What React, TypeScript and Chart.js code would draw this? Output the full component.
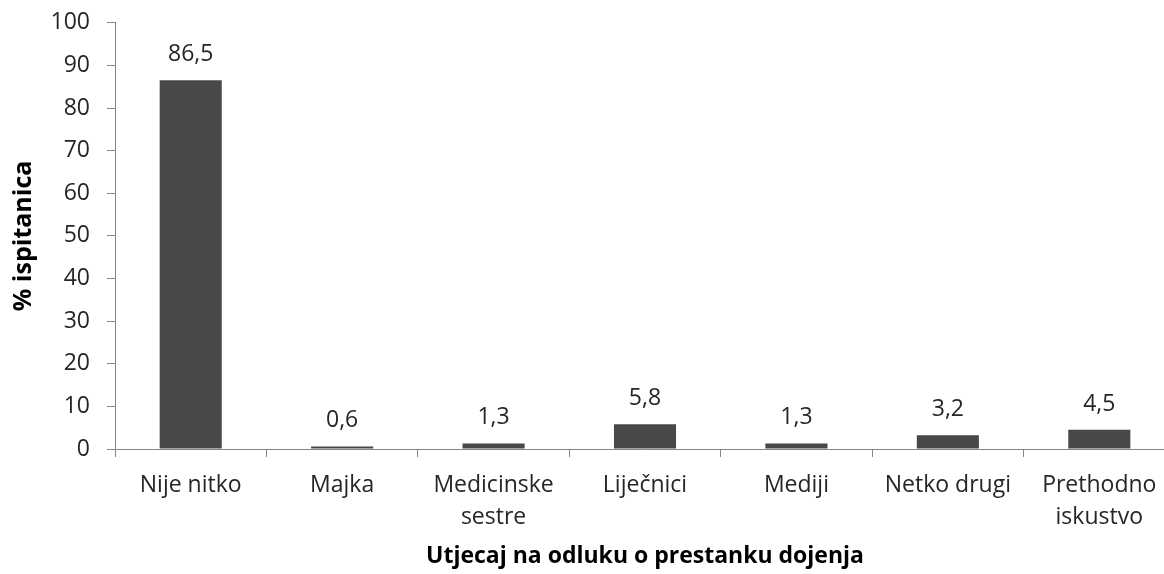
import React, { useEffect, useRef } from "react";
import { Chart, registerables } from "chart.js";

Chart.register(...registerables);

const categories: (string | string[])[] = [
  "Nije nitko",
  "Majka",
  ["Medicinske", "sestre"],
  "Liječnici",
  "Mediji",
  "Netko drugi",
  ["Prethodno", "iskustvo"],
];
const values: number[] = [86.5, 0.6, 1.3, 5.8, 1.3, 3.2, 4.5];
const valueLabels: string[] = ["86,5", "0,6", "1,3", "5,8", "1,3", "3,2", "4,5"];
const yTitle = "% ispitanica";
const xTitle = "Utjecaj na odluku o prestanku dojenja";

const FONT = "'Open Sans', 'Noto Sans', sans-serif";
const TEXT = "#262626";
const AXIS = "#868686";

const labelPlugin = {
  id: "valueLabels",
  afterDatasetsDraw(chart: any) {
    const ctx = chart.ctx;
    const meta = chart.getDatasetMeta(0);
    ctx.save();
    ctx.font = `23px ${FONT}`;
    ctx.fillStyle = TEXT;
    ctx.textAlign = "center";
    ctx.textBaseline = "alphabetic";
    meta.data.forEach((bar: any, i: number) => {
      ctx.fillText(valueLabels[i], bar.x, bar.y - 19);
    });
    ctx.restore();
  },
};

export default function App() {
  const ref = useRef<HTMLCanvasElement | null>(null);
  useEffect(() => {
    if (!ref.current) return;
    const chart = new Chart(ref.current, {
      type: "bar",
      data: {
        labels: categories as any,
        datasets: [
          {
            data: values,
            backgroundColor: "#484848",
            barPercentage: 0.41,
            categoryPercentage: 1,
          },
        ],
      },
      options: {
        animation: false,
        responsive: false,
        maintainAspectRatio: false,
        layout: { padding: { top: 0, right: 1, left: 0, bottom: 0 } },
        plugins: { legend: { display: false }, tooltip: { enabled: false } },
        scales: {
          x: {
            grid: {
              drawOnChartArea: false,
              offset: true,
              color: AXIS,
              tickLength: 8,
              tickColor: AXIS,
            },
            border: { color: AXIS, width: 1 },
            ticks: {
              color: TEXT,
              font: { family: FONT, size: 23, lineHeight: 1.4 },
              padding: 12,
              maxRotation: 0,
              autoSkip: false,
            },
            title: {
              display: true,
              text: xTitle,
              color: "#000",
              font: { family: FONT, size: 23, weight: "bold" },
              padding: { top: 4, bottom: 4 },
            },
            afterFit: (s: any) => {
              s.height = 125;
            },
          },
          y: {
            min: 0,
            max: 100,
            ticks: {
              stepSize: 10,
              color: TEXT,
              font: { family: FONT, size: 23 },
              padding: 17,
            },
            grid: {
              drawOnChartArea: false,
              color: AXIS,
              tickLength: 8,
              tickColor: AXIS,
            },
            border: { color: AXIS, width: 1 },
            title: {
              display: true,
              text: yTitle,
              color: "#000",
              font: { family: FONT, size: 25, weight: "bold" },
              padding: { top: 9, bottom: 0 },
            },
            afterFit: (s: any) => {
              s.width = 115;
            },
          },
        },
      },
      plugins: [labelPlugin],
    });
    return () => chart.destroy();
  }, []);
  return (
    <div style={{ position: "absolute", left: 0, top: 0, width: 1164, height: 574, overflow: "hidden", background: "#fff" }}>
      <canvas
        ref={ref}
        width={1176}
        height={582}
        style={{ display: "block", position: "absolute", left: 0, top: -8 }}
      />
    </div>
  );
}
